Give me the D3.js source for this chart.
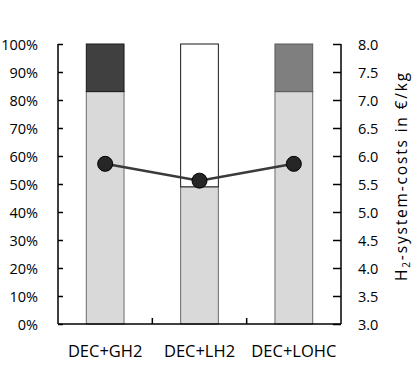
<!DOCTYPE html>
<html><head><meta charset="utf-8">
<script src="https://cdn.jsdelivr.net/npm/d3@7"></script>
<style>body{margin:0;background:#fff}svg{display:block}text{font-family:"Open Sans",sans-serif;fill:#000}</style>
</head><body><svg id="c" width="414" height="368"></svg>
<script>
const categories = ["DEC+GH2", "DEC+LH2", "DEC+LOHC"];
const baseShare = [0.83, 0.49, 0.83];
const topShare = [0.17, 0.51, 0.17];
const topColors = ["#404040", "#ffffff", "#7f7f7f"];
const costs = [5.86, 5.56, 5.86];
const leftTicks = [0,0.1,0.2,0.3,0.4,0.5,0.6,0.7,0.8,0.9,1.0];
const rightTicks = [3.0,3.5,4.0,4.5,5.0,5.5,6.0,6.5,7.0,7.5,8.0];

const svg = d3.select("#c");
const L = 58, R = 341, T = 44, B = 324;
const x = d3.scaleBand().domain(categories).range([L, R]).paddingInner(0.6).paddingOuter(0.3);
const xb = d3.scaleBand().domain(categories).range([L, R]);
const yL = d3.scaleLinear().domain([0, 1]).range([B, T]);
const yR = d3.scaleLinear().domain([3, 8]).range([B, T]);

const g = svg.append("g");
categories.forEach((c, i) => {
  g.append("rect").attr("x", x(c)).attr("width", x.bandwidth())
    .attr("y", yL(baseShare[i])).attr("height", yL(0) - yL(baseShare[i]))
    .attr("fill", "#d9d9d9").attr("stroke", "#6b6b6b").attr("stroke-width", 1);
  g.append("rect").attr("x", x(c)).attr("width", x.bandwidth())
    .attr("y", yL(baseShare[i] + topShare[i])).attr("height", yL(0) - yL(topShare[i]))
    .attr("fill", topColors[i]).attr("stroke", i === 2 ? "#5a5a5a" : "#1a1a1a").attr("stroke-width", 1);
});

const axL = d3.axisLeft(yL).tickValues(leftTicks).tickFormat(d3.format(".0%")).tickSizeInner(-5).tickSizeOuter(0);
const gl = svg.append("g").attr("transform", `translate(${L},0)`).call(axL);
const axR = d3.axisRight(yR).tickValues(rightTicks).tickFormat(d3.format(".1f")).tickSizeInner(-8).tickSizeOuter(0);
const gr = svg.append("g").attr("transform", `translate(${R},0)`).call(axR);
const axB = d3.axisBottom(xb).tickSize(0);
const gb = svg.append("g").attr("transform", `translate(0,${B})`).call(axB);
gb.selectAll(".sep").data(categories.slice(1)).enter().append("line")
  .attr("x1", d => xb(d)).attr("x2", d => xb(d)).attr("y1", 0).attr("y2", -6)
  .attr("stroke", "#000").attr("stroke-width", 1.5);
[gl, gr, gb].forEach(a => {
  a.selectAll("path,line").attr("stroke", "#000").attr("stroke-width", 1.5);
  a.selectAll("text").style("font-family", '"Open Sans",sans-serif').style("font-size", "14.5px").attr("fill", "#000");
});
gl.select(".domain").attr("d", `M0,${T}V${B}`);
gr.select(".domain").attr("d", `M0,${T}V${B}`);
gb.select(".domain").attr("d", `M${L},0H${R}`);
gl.selectAll("text").attr("text-anchor", "end").attr("x", -20).attr("dy", "0.36em");
gr.selectAll("text").attr("text-anchor", "start").attr("x", 17).attr("dy", "0.36em");
gb.selectAll(".tick text").style("font-size", "16.5px").attr("y", 33).attr("dy", 0);

const line = d3.line().x(d => xb(d.c) + xb.bandwidth() / 2).y(d => yR(d.v));
const pts = categories.map((c, i) => ({c, v: costs[i]}));
svg.append("path").datum(pts).attr("d", line).attr("fill", "none").attr("stroke", "#3a3a3a").attr("stroke-width", 2.5);
svg.selectAll(".dot").data(pts).enter().append("circle")
  .attr("cx", d => xb(d.c) + xb.bandwidth() / 2).attr("cy", d => yR(d.v)).attr("r", 7.5)
  .attr("fill", "#262626").attr("stroke", "#000").attr("stroke-width", 1);

const title = svg.append("text").attr("transform", `translate(407,176) rotate(-90)`).attr("text-anchor", "middle")
  .style("font-size", "15.5px")
  .html('H<tspan font-size="10px" dy="3">2</tspan><tspan dy="-3">-system-costs in €/kg</tspan>');
const len = title.node().getComputedTextLength();
title.style("letter-spacing", ((210 - len) / 23).toFixed(2) + "px");
</script></body></html>
